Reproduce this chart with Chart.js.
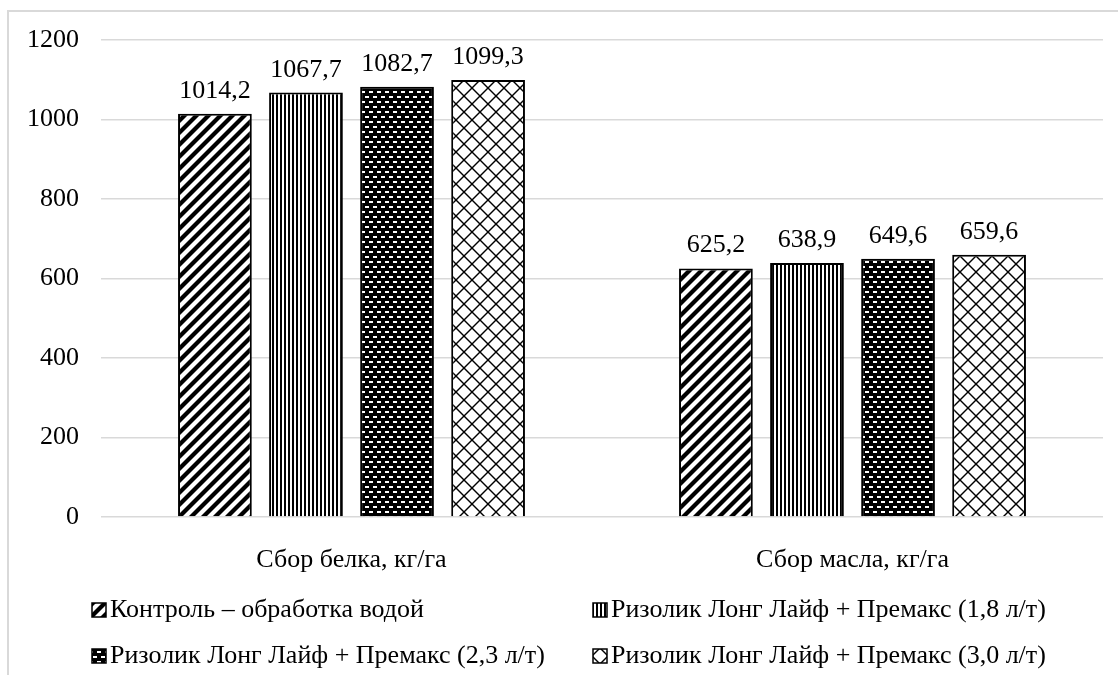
<!DOCTYPE html>
<html lang="ru">
<head>
<meta charset="utf-8">
<script src="https://cdn.jsdelivr.net/npm/chart.js@4.4.1/dist/chart.umd.min.js"></script>
<style>
  html, body { margin: 0; padding: 0; background: #fff; overflow: hidden; }
  #frame { position: absolute; left: 7px; top: 10px; width: 1200px; height: 800px;
           border-left: 2px solid #d9d9d9; border-top: 2px solid #d9d9d9; }
  #chart { position: absolute; left: 0; top: 0; }
</style>
</head>
<body>
<div id="frame"></div>
<canvas id="chart" width="1118" height="675"></canvas>
<script>
// Data
const categories = ['Сбор белка, кг/га', 'Сбор масла, кг/га'];
const seriesNames = [
    'Контроль – обработка водой',
    'Ризолик Лонг Лайф + Премакс (1,8 л/т)',
    'Ризолик Лонг Лайф + Премакс (2,3 л/т)',
    'Ризолик Лонг Лайф + Премакс (3,0 л/т)'
];
const controlValues = [1014.2, 625.2];
const dose18Values = [1067.7, 638.9];
const dose23Values = [1082.7, 649.6];
const dose30Values = [1099.3, 659.6];
const yTicks = [0, 200, 400, 600, 800, 1000, 1200];

const FONT = '"Liberation Serif", "Times New Roman", serif';
const FONT_SIZE = 26;

// Pattern helpers (black & white hatch fills like the original)
function makePattern(w, h, draw) {
    const c = document.createElement('canvas');
    c.width = w;
    c.height = h;
    const g = c.getContext('2d');
    g.fillStyle = '#fff';
    g.fillRect(0, 0, w, h);
    draw(g, w, h);
    return g.createPattern(c, 'repeat');
}

const diagonalPattern = makePattern(12, 12, function(g) {
    g.strokeStyle = '#000';
    g.lineWidth = 4.2;
    for (let k = -1; k <= 2; k++) {
        g.beginPath();
        g.moveTo(12 * k - 14, 14);
        g.lineTo(12 * k + 14, -14);
        g.stroke();
    }
});

const verticalPattern = makePattern(4, 4, function(g) {
    g.fillStyle = '#000';
    g.fillRect(0, 0, 2, 4);
});

const dashPattern = makePattern(8, 10, function(g) {
    g.fillStyle = '#000';
    g.fillRect(0, 0, 8, 10);
    g.fillStyle = '#fff';
    g.fillRect(1, 1, 4, 2);
    g.fillRect(5, 6, 4, 2);
    g.fillRect(-3, 6, 4, 2);
});

const diamondPattern = makePattern(16, 16, function(g) {
    g.strokeStyle = '#000';
    g.lineWidth = 1.4;
    for (let k = -1; k <= 2; k++) {
        g.beginPath();
        g.moveTo(16 * k - 20, -20);
        g.lineTo(16 * k + 20, 20);
        g.stroke();
        g.beginPath();
        g.moveTo(16 * k + 20, -20);
        g.lineTo(16 * k - 20, 20);
        g.stroke();
    }
});

const patterns = [diagonalPattern, verticalPattern, dashPattern, diamondPattern];
const seriesValues = [controlValues, dose18Values, dose23Values, dose30Values];

function formatValue(v) {
    return v.toFixed(1).replace('.', ',');
}

// Value labels above bars
const valueLabels = {
    id: 'valueLabels',
    afterDatasetsDraw(chart) {
        const ctx = chart.ctx;
        ctx.save();
        ctx.font = FONT_SIZE + 'px ' + FONT;
        ctx.fillStyle = '#000';
        ctx.textAlign = 'center';
        ctx.textBaseline = 'alphabetic';
        chart.data.datasets.forEach(function(ds, i) {
            chart.getDatasetMeta(i).data.forEach(function(bar, j) {
                ctx.fillText(formatValue(ds.data[j]), bar.x, bar.y - 16);
            });
        });
        ctx.restore();
    }
};

// Two-column legend under the axis, like the Excel original
const gridLegend = {
    id: 'gridLegend',
    afterDraw(chart) {
        const ctx = chart.ctx;
        const colX = [92, 593];
        const rowY = [610, 656];
        ctx.save();
        ctx.font = FONT_SIZE + 'px ' + FONT;
        ctx.textAlign = 'left';
        ctx.textBaseline = 'middle';
        chart.data.datasets.forEach(function(ds, i) {
            const x = colX[i % 2];
            const y = rowY[Math.floor(i / 2)];
            ctx.fillStyle = ds.backgroundColor;
            ctx.fillRect(x, y - 7, 14, 14);
            ctx.strokeStyle = '#000';
            ctx.lineWidth = 1.5;
            ctx.strokeRect(x, y - 7, 14, 14);
            ctx.fillStyle = '#000';
            ctx.fillText(ds.label, x + 18, y);
        });
        ctx.restore();
    }
};

new Chart(document.getElementById('chart'), {
    type: 'bar',
    data: {
        labels: categories,
        datasets: seriesNames.map(function(name, i) {
            return {
                label: name,
                data: seriesValues[i],
                backgroundColor: patterns[i],
                borderColor: '#000',
                borderWidth: 2,
                categoryPercentage: 0.727,
                barPercentage: 0.81
            };
        })
    },
    options: {
        responsive: false,
        animation: false,
        layout: {
            padding: { left: 0, top: 40, right: 15, bottom: 0 }
        },
        plugins: {
            legend: { display: false },
            tooltip: { enabled: false }
        },
        scales: {
            y: {
                min: 0,
                max: 1200,
                afterBuildTicks: function(scale) {
                    scale.ticks = yTicks.map(function(v) { return { value: v }; });
                },
                afterFit: function(scale) {
                    scale.width = 101;
                },
                ticks: {
                    padding: 22,
                    color: '#000',
                    font: { family: FONT, size: FONT_SIZE },
                    callback: function(value) {
                        return String(value);
                    }
                },
                grid: {
                    color: '#d9d9d9',
                    lineWidth: 1.5,
                    drawTicks: false
                },
                border: { display: false }
            },
            x: {
                afterFit: function(scale) {
                    scale.height = 158;
                },
                ticks: {
                    padding: 20,
                    color: '#000',
                    font: { family: FONT, size: FONT_SIZE }
                },
                grid: { display: false },
                border: { display: false }
            }
        }
    },
    plugins: [valueLabels, gridLegend]
});
</script>
</body>
</html>
